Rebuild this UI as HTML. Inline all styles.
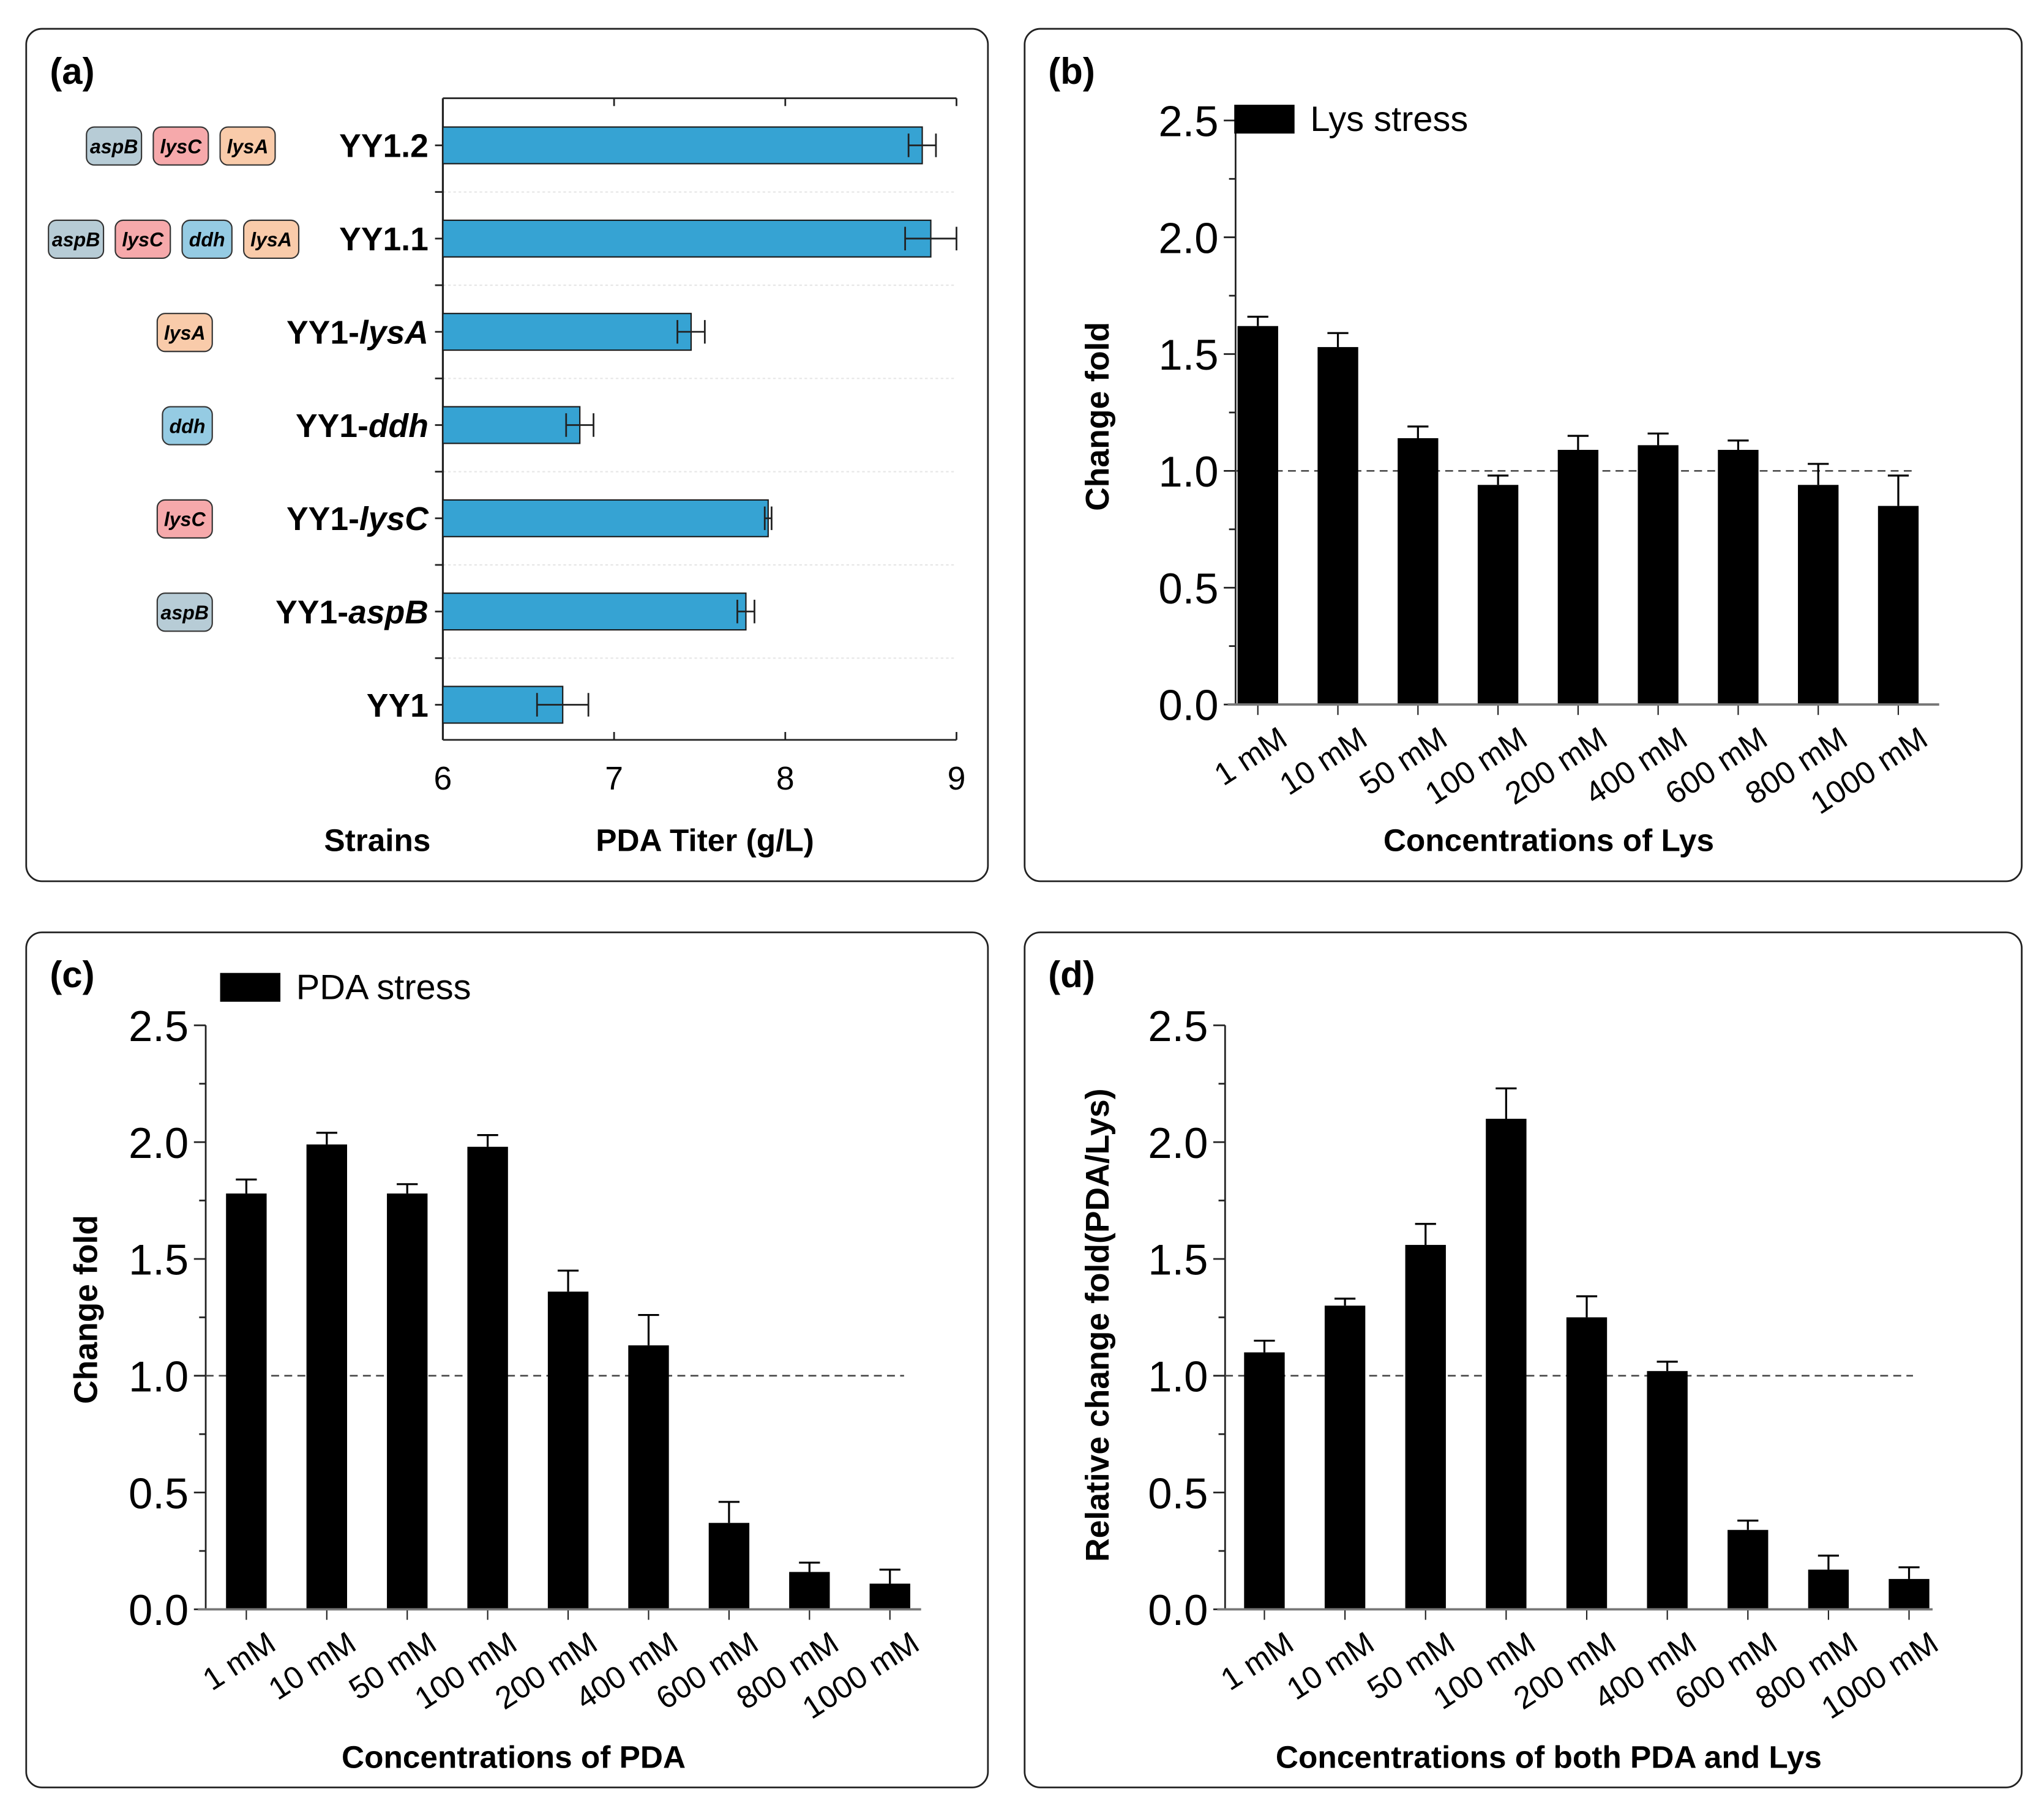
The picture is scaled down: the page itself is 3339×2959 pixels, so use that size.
<!DOCTYPE html>
<html><head><meta charset="utf-8">
<style>
html,body{margin:0;padding:0;background:#fff;}
svg{display:block;width:3339px;height:2959px;}
text{font-family:"Liberation Sans",Arial,sans-serif;}
</style></head>
<body>
<svg id="fig" viewBox="0 0 1560 1383" preserveAspectRatio="none" xmlns="http://www.w3.org/2000/svg"></svg>
<script>
// ---- Panel (a) data ----
const strainsA = ["YY1.2","YY1.1","YY1-lysA","YY1-ddh","YY1-lysC","YY1-aspB","YY1"];
const titerA = [8.8,8.85,7.45,6.8,7.9,7.77,6.7];
const titerErrA = [0.08,0.15,0.08,0.08,0.02,0.05,0.15];
const genesA = [["aspB","lysC","lysA"],["aspB","lysC","ddh","lysA"],["lysA"],["ddh"],["lysC"],["aspB"],[]];
const xTicksA = [6,7,8,9];
// ---- Panels b, c, d data ----
const concLabels = ["1 mM","10 mM","50 mM","100 mM","200 mM","400 mM","600 mM","800 mM","1000 mM"];
const yTicks = [0,0.5,1.0,1.5,2.0,2.5];
const lysVals = [1.62,1.53,1.14,0.94,1.09,1.11,1.09,0.94,0.85];
const lysErr = [0.04,0.06,0.05,0.04,0.06,0.05,0.04,0.09,0.13];
const pdaVals = [1.78,1.99,1.78,1.98,1.36,1.13,0.37,0.16,0.11];
const pdaErr = [0.06,0.05,0.04,0.05,0.09,0.13,0.09,0.04,0.06];
const bothVals = [1.1,1.3,1.56,2.1,1.25,1.02,0.34,0.17,0.13];
const bothErr = [0.05,0.03,0.09,0.13,0.09,0.04,0.04,0.06,0.05];

const NS="http://www.w3.org/2000/svg";
const svg=document.getElementById('fig');
function el(tag,attrs,parent,text){const e=document.createElementNS(NS,tag);for(const k in attrs)e.setAttribute(k,attrs[k]);if(text!==undefined)e.textContent=text;(parent||svg).appendChild(e);return e;}

const frames=[[20,22,734,651,"a"],[782,22,761,651,"b"],[20,712,734,653,"c"],[782,712,761,653,"d"]];
frames.forEach(f=>{
  const r=el('rect',{x:f[0],y:f[1],width:f[2],height:f[3],rx:12,fill:'none',stroke:'#222','stroke-width':1.3});
  
  
  const t=el('text',{x:f[0]+18,y:f[1]+42,'font-size':28,'font-weight':'bold'},svg,'('+f[4]+')');
  
  
});

// ---- Panel a ----
(function(){
  const g=el('g',{});
  
  
  const x0=338,x1=730,yTop=75,yBot=565;
  const xs=v=>x0+(v-6)/(9-6)*(x1-x0);
  const rowY=i=>111+i*71.2;
  const bh=28;
  for(let i=0;i<strainsA.length-1;i++){
    const y=(rowY(i)+rowY(i+1))/2;
    el('line',{x1:x0,x2:x1,y1:y,y2:y,stroke:'#e6e6e6','stroke-width':1,'stroke-dasharray':'2,2'},g);
    el('line',{x1:x0-6,x2:x0,y1:y,y2:y,stroke:'#222','stroke-width':1.3},g);
  }
  el('line',{x1:x0,x2:x0,y1:yTop,y2:yBot,stroke:'#222','stroke-width':1.5},g);
  el('line',{x1:x0,x2:x1,y1:yTop,y2:yTop,stroke:'#222','stroke-width':1.3},g);
  el('line',{x1:x0,x2:x1,y1:yBot,y2:yBot,stroke:'#222','stroke-width':1.3},g);
  xTicksA.forEach(t=>{
    const x=xs(t);
    el('line',{x1:x,x2:x,y1:yBot,y2:yBot-6,stroke:'#222','stroke-width':1.3},g);
    el('line',{x1:x,x2:x,y1:yTop,y2:yTop+6,stroke:'#222','stroke-width':1.3},g);
    const tl=el('text',{x:x,y:yBot+38,'font-size':25,'text-anchor':'middle'},g,String(t));
    
    
  });
  const colors={aspB:'#b7ccd6',lysC:'#f6a9ab',ddh:'#95cbe3',lysA:'#f9cbaa'};
  strainsA.forEach((s,i)=>{
    const y=rowY(i);
    const b=el('rect',{x:x0,y:y-bh/2,width:xs(titerA[i])-x0,height:bh,fill:'#36a3d3',stroke:'#1a1a1a','stroke-width':1},g);
    
    
    const xl=xs(titerA[i]-titerErrA[i]),xr=xs(titerA[i]+titerErrA[i]);
    el('line',{x1:xl,x2:xr,y1:y,y2:y,stroke:'#222','stroke-width':1.3},g);
    el('line',{x1:xl,x2:xl,y1:y-9,y2:y+9,stroke:'#222','stroke-width':1.3},g);
    el('line',{x1:xr,x2:xr,y1:y-9,y2:y+9,stroke:'#222','stroke-width':1.3},g);
    el('line',{x1:x0-6,x2:x0,y1:y,y2:y,stroke:'#222','stroke-width':1.3},g);
    const lbl=el('text',{x:x0-11,y:y+9,'font-size':25,'font-weight':'bold','text-anchor':'end'},g);
    
    
    const parts=s.split('-');
    el('tspan',{},lbl,parts[0]+(parts.length>1?'-':''));
    if(parts.length>1) el('tspan',{'font-style':'italic'},lbl,parts[1]);
    const genes=genesA[i];
    const widths=genes.map(n=>n==='ddh'?38:42);
    let xpos=genes.length===3?210:(genes.length===4?228:162);
    for(let k=genes.length-1;k>=0;k--){
      const w=widths[k];xpos-=w;
      const tag=el('rect',{x:xpos,y:y-14,width:w,height:29,rx:6,fill:colors[genes[k]],stroke:'#333','stroke-width':1},g);
      
      
      el('text',{x:xpos+w/2,y:y+6,'font-size':15,'font-weight':'bold','font-style':'italic','text-anchor':'middle'},g,genes[k]);
      xpos-=9;
    }
  });
  const t1=el('text',{x:288,y:650,'font-size':24,'font-weight':'bold','text-anchor':'middle'},g,'Strains');
  
  const t2=el('text',{x:538,y:650,'font-size':24,'font-weight':'bold','text-anchor':'middle'},g,'PDA Titer (g/L)');
  
})();

// ---- Bar panels ----
function barPanel(id,axisX,yZero,firstC,spacing,axisEnd,dashEnd,vals,errs,legend,legX,legY,yTitle,yTitleX,yTitleY,xTitle,xTitleX,xTitleY){
  const g=el('g',{});
  
  
  const unit=178.4;
  const ys=v=>yZero-v*unit;
  const bw=31;
  el('line',{x1:axisX,x2:axisX,y1:ys(2.5),y2:yZero,stroke:'#222','stroke-width':1.3},g);
  for(let k=0;k<=10;k++){
    const v=k*0.25,y=ys(v);
    el('line',{x1:axisX-(k%2?5:9),x2:axisX,y1:y,y2:y,stroke:'#222','stroke-width':1.3},g);
  }
  yTicks.forEach(t=>{
    const tl=el('text',{x:axisX-13,y:ys(t)+12,'font-size':33,'text-anchor':'end'},g,t.toFixed(1));
    
    
  });
  el('line',{x1:axisX,x2:dashEnd,y1:ys(1),y2:ys(1),stroke:'#444','stroke-width':1.2,'stroke-dasharray':'6,4'},g);
  vals.forEach((v,i)=>{
    const cx=firstC+i*spacing;
    const b=el('rect',{x:cx-bw/2,y:ys(v),width:bw,height:yZero-ys(v),fill:'#000'},g);
    
    
    const ye=ys(v+errs[i]);
    el('line',{x1:cx,x2:cx,y1:ye,y2:ys(v),stroke:'#000','stroke-width':1.5},g);
    el('line',{x1:cx-8,x2:cx+8,y1:ye,y2:ye,stroke:'#000','stroke-width':1.5},g);
    el('line',{x1:cx,x2:cx,y1:yZero,y2:yZero+8,stroke:'#222','stroke-width':1},g);
    const ax=cx+24,ay=yZero+30;
    const tl=el('text',{x:ax,y:ay,'font-size':24,'text-anchor':'end',transform:`rotate(-33 ${ax} ${ay})`},g,concLabels[i]);
    
    
  });
  el('line',{x1:axisX-6,x2:axisEnd,y1:yZero,y2:yZero,stroke:'#777','stroke-width':1.8},g);
  if(legend){
    const lr=el('rect',{x:legX,y:legY,width:46,height:22,fill:'#000'},g);
    
    const lt=el('text',{x:legX+58,y:legY+20,'font-size':27},g,legend);
    
  }
  const yt=el('text',{x:yTitleX,y:yTitleY,'font-size':25,'font-weight':'bold','text-anchor':'middle',transform:`rotate(-90 ${yTitleX} ${yTitleY})`},g,yTitle);
  
  const xt=el('text',{x:xTitleX,y:xTitleY,'font-size':24,'font-weight':'bold','text-anchor':'middle'},g,xTitle);
  
}
barPanel('b',943,538,960,61.1,1480,1460,lysVals,lysErr,'Lys stress',942,80,'Change fold',846,318,'Concentrations of Lys',1182,650);
barPanel('c',157,1229,188,61.4,703,690,pdaVals,pdaErr,'PDA stress',168,743,'Change fold',74,1000,'Concentrations of PDA',392,1350);
barPanel('d',935,1229,965,61.5,1475,1460,bothVals,bothErr,null,0,0,'Relative change fold(PDA/Lys)',846,1012,'Concentrations of both PDA and Lys',1182,1350);
</script>
</body></html>
